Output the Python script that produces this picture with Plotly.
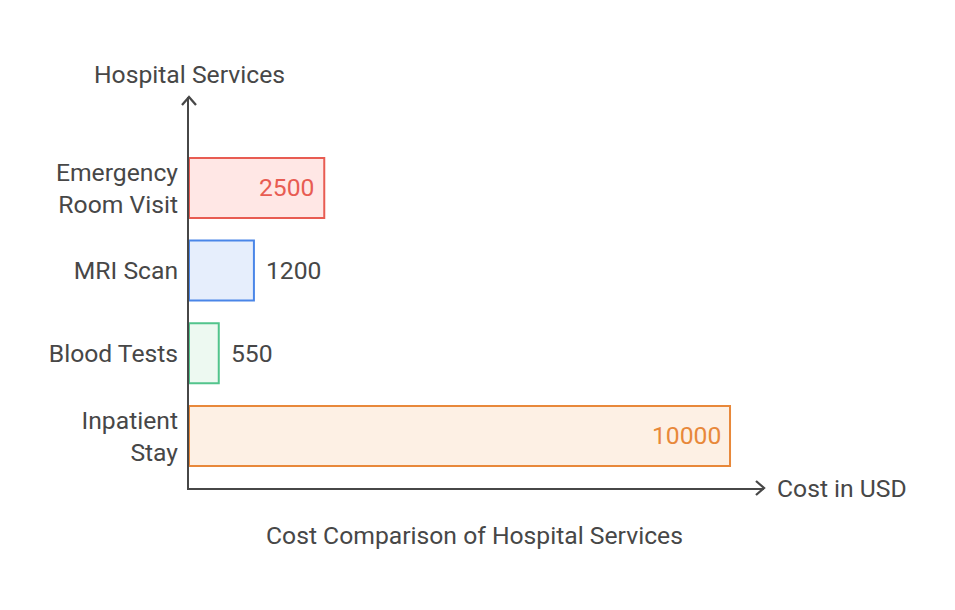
import plotly.graph_objects as go

categories = ["Inpatient<br>Stay", "Blood Tests", "MRI Scan", "Emergency<br>Room Visit"]
costs = [10000, 550, 1200, 2500]
fill_colors = ["#FDF0E4", "#EDF9F1", "#E6EEFC", "#FFE7E5"]
line_colors = ["#E8883A", "#52C48C", "#4A86E8", "#E85C52"]
label_inside = [True, False, False, True]
label_colors = ["#E8883A", "#474747", "#474747", "#E85C52"]

FONT = "Roboto"
TXT = "#474747"
FS = 24.7

fig = go.Figure()
fig.add_trace(go.Bar(
    y=categories, x=costs, orientation="h", width=0.726,
    marker=dict(color=fill_colors, line=dict(color=line_colors, width=2)),
    hoverinfo="skip",
))

annotations = []
for c, v, ins, col in zip(categories, costs, label_inside, label_colors):
    annotations.append(dict(
        x=v, y=c, xref="x", yref="y", text=str(v), showarrow=False,
        xanchor="right" if ins else "left", xshift=-7 if ins else 10,
        font=dict(family=FONT, size=FS, color=col),
    ))

annotations += [
    dict(x=0, y=1, xref="paper", yref="paper", text="Hospital Services", showarrow=False,
         xanchor="center", yanchor="bottom", yshift=6, font=dict(family=FONT, size=FS, color=TXT)),
    dict(x=1, y=0, xref="paper", yref="paper", text="Cost in USD", showarrow=False,
         xanchor="left", yanchor="middle", xshift=11, font=dict(family=FONT, size=FS, color=TXT)),
    dict(x=0.5, y=0, xref="paper", yref="paper", text="Cost Comparison of Hospital Services",
         showarrow=False, xanchor="center", yanchor="middle", yshift=-47, xshift=-2,
         font=dict(family=FONT, size=FS, color=TXT)),
]

pw, ph = 575, 391
dx, dy = 8 / pw, 7 / ph
dxv, dyv = 7 / pw, 8 / ph
shapes = [
    dict(type="path", xref="paper", yref="paper",
         path=f"M {1-dx},{dy} L 1,0 L {1-dx},{-dy}", line=dict(color=TXT, width=2.3)),
    dict(type="path", xref="paper", yref="paper",
         path=f"M {-dxv},{1-dyv} L 0,1 L {dxv},{1-dyv}", line=dict(color=TXT, width=2.3)),
]

fig.update_layout(
    width=947, height=602, plot_bgcolor="white", paper_bgcolor="white",
    margin=dict(l=181, r=191, t=89, b=122),
    showlegend=False, annotations=annotations, shapes=shapes,
    font=dict(family=FONT, size=FS, color=TXT),
)
fig.update_xaxes(range=[0, 10628], showgrid=False, zeroline=False, showticklabels=False,
                 showline=True, linecolor=TXT, linewidth=2, ticks="")
fig.update_yaxes(range=[-0.63, 4.1], showgrid=False, zeroline=False, showline=True,
                 linecolor=TXT, linewidth=2, ticks="outside", ticklen=4, tickcolor="rgba(0,0,0,0)",
                 tickfont=dict(family=FONT, size=FS, color=TXT))

fig.write_html("out.html")
